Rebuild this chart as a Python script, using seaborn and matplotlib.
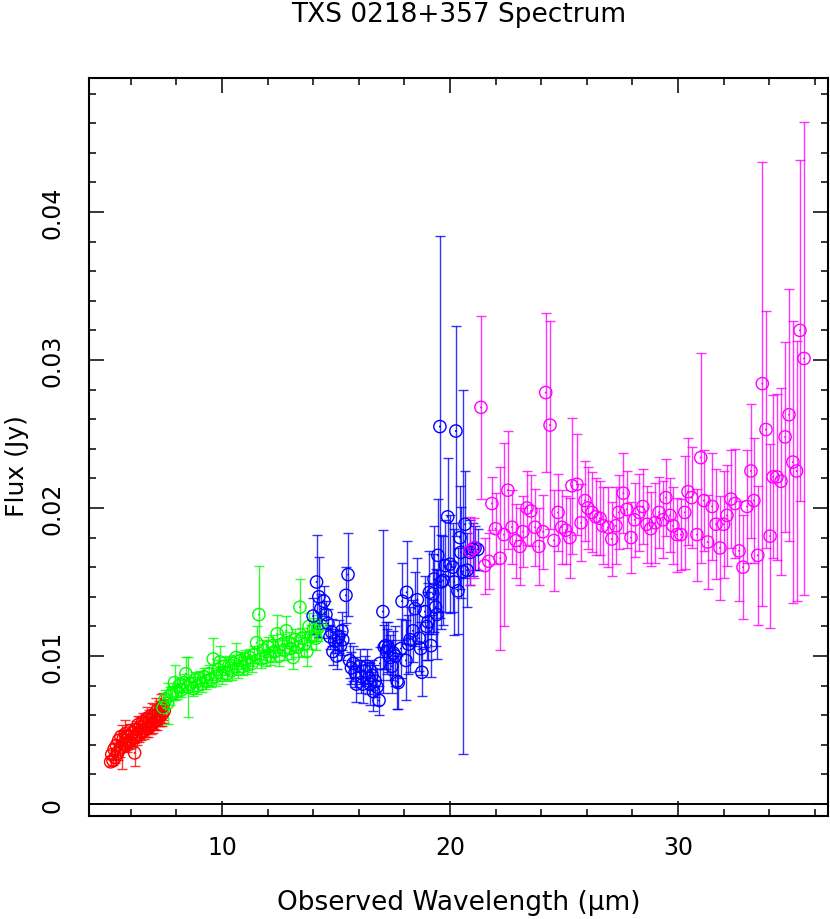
import numpy as np
import pandas as pd
import matplotlib
matplotlib.use("Agg")
import matplotlib.pyplot as plt
import seaborn as sns
from matplotlib.ticker import MultipleLocator, FuncFormatter

# ---------------- data (flux in units of 1e-3 Jy) ----------------
red_wave = [5.12, 5.17, 5.22, 5.27, 5.32, 5.37, 5.42, 5.47, 5.52, 5.57, 5.62, 5.67,
            5.72, 5.77, 5.82, 5.87, 5.92, 5.97, 6.02, 6.07, 6.12, 6.17, 6.22, 6.27,
            6.32, 6.37, 6.42, 6.47, 6.52, 6.57, 6.62, 6.67, 6.72, 6.77, 6.82, 6.87,
            6.92, 6.97, 7.02, 7.07, 7.12, 7.17, 7.22, 7.27, 7.32, 7.37, 7.42, 7.47]
red_flux = [2.85, 3.35, 2.95, 3.70, 3.15, 3.95, 3.40, 4.30, 3.70, 4.55, 3.85, 4.40,
            4.05, 4.75, 3.95, 4.60, 4.20, 4.95, 4.35, 4.80, 4.45, 3.45, 5.05, 4.50,
            5.35, 4.70, 5.20, 4.85, 5.55, 4.95, 5.40, 5.10, 5.80, 5.15, 5.65, 5.35,
            6.00, 5.45, 5.90, 5.60, 6.25, 5.70, 6.10, 5.95, 6.45, 6.05, 6.60, 6.30]
red_err = [0.25, 0.30, 0.30, 0.35, 0.40, 0.35, 0.45, 0.40, 0.50, 0.40, 1.50, 0.50,
           0.40, 0.95, 0.45, 0.40, 0.50, 0.45, 0.55, 0.50, 0.55, 0.85, 0.55, 0.50,
           0.60, 0.50, 0.65, 0.55, 0.60, 0.55, 0.70, 0.55, 0.75, 0.60, 0.70, 0.60,
           0.80, 0.65, 0.85, 0.60, 0.90, 0.70, 0.85, 0.70, 0.95, 0.75, 0.90, 0.80]

green_wave = [7.42, 7.52, 7.62, 7.72, 7.82, 7.92, 8.02, 8.12, 8.22, 8.32, 8.42, 8.52,
              8.62, 8.72, 8.82, 8.92, 9.02, 9.12, 9.22, 9.32, 9.42, 9.52, 9.62, 9.72,
              9.82, 9.92, 10.02, 10.12, 10.22, 10.32, 10.42, 10.52, 10.62, 10.72, 10.82,
              10.92, 11.02, 11.12, 11.22, 11.32, 11.42, 11.52, 11.62, 11.72, 11.82, 11.92,
              12.02, 12.12, 12.22, 12.32, 12.42, 12.52, 12.62, 12.72, 12.82, 12.92, 13.02,
              13.12, 13.22, 13.32, 13.42, 13.52, 13.62, 13.72, 13.82, 13.92, 14.02, 14.12,
              14.22, 14.32]
green_flux = [6.5, 7.1, 6.8, 7.3, 7.5, 8.2, 7.6, 8.0, 7.7, 8.2, 8.8, 7.9,
              8.1, 7.8, 8.4, 8.0, 8.5, 8.1, 8.6, 8.3, 8.8, 8.4, 9.8, 8.6,
              9.1, 9.6, 8.7, 9.3, 8.8, 9.4, 9.0, 9.5, 9.9, 9.1, 9.7,
              9.3, 9.8, 9.4, 9.9, 9.5, 10.1, 10.9, 12.8, 9.8, 10.4, 9.9,
              10.6, 10.0, 10.7, 10.3, 11.5, 10.0, 10.8, 10.4, 11.7, 10.9, 10.5,
              9.9, 11.1, 10.6, 13.3, 11.2, 10.8, 10.3, 12.0, 11.3, 11.8, 11.2,
              11.9, 12.1]
green_err = [0.5, 0.6, 1.4, 0.6, 0.5, 1.2, 0.5, 0.5, 0.5, 0.6, 1.1, 2.0,
             0.5, 0.5, 0.5, 0.6, 0.5, 0.5, 0.6, 0.5, 0.6, 0.5, 1.4, 0.6,
             0.6, 1.1, 0.6, 0.6, 0.5, 0.6, 0.6, 0.6, 1.0, 0.6, 0.6,
             0.6, 0.6, 0.6, 0.6, 0.6, 0.6, 1.1, 3.3, 0.6, 0.7, 0.6,
             0.7, 0.6, 0.7, 0.7, 1.3, 0.7, 0.7, 0.7, 1.0, 0.7, 0.7,
             0.8, 0.7, 0.7, 1.9, 0.7, 0.8, 1.0, 0.9, 0.8, 0.8, 0.8,
             0.9, 0.9]

blue_wave = [14.00, 14.15, 14.25, 14.34, 14.47, 14.56, 14.65, 14.74, 14.82, 14.87, 14.95,
             15.03, 15.12, 15.20, 15.26, 15.30, 15.44, 15.53, 15.60, 15.68, 15.76, 15.84,
             15.90, 16.05, 16.12, 16.18, 16.28, 16.36, 16.44, 16.50, 16.58, 16.64, 16.72,
             16.80, 16.89, 16.93, 17.06, 17.12, 17.18, 17.24, 17.30, 17.38, 17.45, 17.52,
             17.60, 17.68, 17.73, 17.85, 17.90, 18.07, 18.10, 18.18, 18.25, 18.38, 18.47,
             18.57, 18.65, 18.72, 18.77, 18.90, 18.98, 19.04, 19.10, 19.17, 19.25, 19.30,
             19.37, 19.43, 19.47, 19.56, 19.62, 19.70, 19.80, 19.90, 20.00, 20.13, 20.18,
             20.26, 20.35, 20.44, 20.48, 20.57, 20.66, 20.75, 20.88, 21.00, 21.10, 21.22]
blue_flux = [12.7, 15.0, 14.0, 13.2, 13.7, 12.8, 12.2, 11.3, 11.6, 10.3, 11.0,
             10.0, 11.3, 10.7, 11.7, 11.1, 14.1, 15.5, 9.7, 9.2, 9.5, 8.9,
             8.1, 9.3, 8.6, 8.1, 9.0, 9.3, 8.5, 8.1, 8.7, 7.6, 8.3,
             7.9, 7.0, 9.5, 13.0, 10.6, 10.7, 10.3, 10.6, 9.9, 9.3, 10.2,
             10.0, 8.3, 8.2, 10.5, 13.7, 9.7, 14.3, 10.8, 11.1, 11.7, 13.2,
             13.8, 11.2, 10.5, 8.9, 13.0, 12.0, 12.3, 14.3, 10.7, 14.2, 15.2,
             13.3, 12.8, 16.8, 25.5, 15.0, 15.1, 16.1, 19.4, 16.2, 16.0, 15.0,
             25.2, 14.4, 18.0, 17.0, 15.7, 18.9, 15.8, 17.0, 17.2, 17.3, 17.2]
blue_err = [1.2, 3.2, 2.7, 1.0, 1.0, 0.9, 1.0, 0.8, 0.9, 0.9, 0.8,
            0.9, 1.1, 1.0, 1.3, 1.0, 1.9, 2.8, 1.2, 1.1, 1.2, 1.0,
            1.2, 1.2, 1.1, 1.3, 1.0, 1.2, 1.1, 1.4, 1.0, 1.3, 1.1,
            1.2, 1.0, 1.1, 5.5, 1.5, 1.6, 1.5, 1.7, 1.5, 1.8, 1.5,
            2.0, 1.9, 1.8, 2.0, 2.6, 2.7, 3.5, 2.0, 2.2, 2.1, 2.5,
            2.8, 2.2, 1.8, 1.6, 2.4, 2.3, 2.6, 2.8, 2.1, 2.7, 3.6,
            2.6, 3.0, 3.8, 12.9, 3.2, 3.0, 3.1, 4.0, 3.3, 3.0, 3.6,
            7.1, 2.9, 3.5, 3.1, 12.3, 3.6, 2.5, 2.2, 1.8, 1.5, 1.4]

magenta_wave = [20.88, 21.05, 21.36, 21.53, 21.70, 21.84, 22.00, 22.20, 22.37, 22.54,
                22.72, 22.90, 23.07, 23.20, 23.38, 23.55, 23.73, 23.90, 24.08, 24.20,
                24.39, 24.56, 24.74, 24.90, 25.08, 25.26, 25.35, 25.57, 25.75, 25.92,
                26.05, 26.23, 26.40, 26.58, 26.70, 26.93, 27.10, 27.28, 27.40, 27.60,
                27.76, 27.94, 28.10, 28.30, 28.46, 28.64, 28.80, 29.00, 29.17, 29.34,
                29.47, 29.65, 29.78, 29.96, 30.13, 30.30, 30.44, 30.60, 30.83, 31.00,
                31.14, 31.30, 31.50, 31.67, 31.84, 32.00, 32.15, 32.32, 32.50, 32.68,
                32.85, 33.03, 33.20, 33.33, 33.50, 33.70, 33.86, 34.04, 34.17, 34.34,
                34.52, 34.70, 34.87, 35.04, 35.20, 35.35, 35.53]
magenta_flux = [17.1, 17.3, 26.8, 16.1, 16.4, 20.3, 18.6, 16.6, 18.2, 21.2,
                18.7, 17.8, 17.4, 18.4, 20.0, 19.8, 18.7, 17.4, 18.4, 27.8,
                25.6, 17.8, 19.7, 18.7, 18.5, 18.0, 21.5, 21.6, 19.0, 20.5,
                20.0, 19.7, 19.4, 19.3, 18.8, 18.7, 17.9, 18.8, 19.7, 21.0,
                19.9, 18.0, 19.2, 19.7, 20.1, 18.9, 18.6, 19.0, 19.7, 19.2,
                20.7, 19.5, 18.8, 18.2, 18.2, 19.7, 21.1, 20.7, 18.2, 23.4,
                20.5, 17.7, 20.1, 18.9, 17.3, 18.9, 19.5, 20.6, 20.3, 17.1,
                16.0, 20.1, 22.5, 20.5, 16.8, 28.4, 25.3, 18.1, 22.1, 22.1,
                21.8, 24.8, 26.3, 23.1, 22.5, 32.0, 30.1]
magenta_err = [2.3, 2.0, 6.2, 1.9, 1.9, 1.8, 2.4, 6.2, 6.2, 4.0,
               2.5, 2.5, 2.6, 2.4, 2.5, 2.4, 2.6, 2.6, 2.5, 5.4,
               7.0, 3.4, 2.6, 2.5, 2.3, 2.7, 4.6, 3.4, 2.6, 2.7,
               2.8, 2.7, 2.6, 2.5, 2.6, 2.7, 2.5, 2.6, 2.5, 2.7,
               2.6, 2.4, 2.5, 2.6, 2.5, 2.6, 2.5, 2.7, 2.4, 2.6,
               2.6, 2.5, 2.6, 2.5, 2.4, 3.8, 3.6, 3.4, 3.1, 7.1,
               3.4, 3.2, 3.6, 3.7, 3.5, 3.6, 3.4, 3.3, 3.7, 3.4,
               3.5, 3.8, 4.5, 4.2, 4.7, 15.0, 8.0, 6.2, 5.5, 5.6,
               6.3, 6.4, 8.5, 9.5, 8.8, 11.5, 16.0]

band_names = ["SL2", "SL1", "LL2", "LL1"]
band_colors = {"SL2": "#ff0000", "SL1": "#00ff00", "LL2": "#0000ff", "LL1": "#ff00ff"}

frames = []
for name, w, f, e in zip(band_names,
                         [red_wave, green_wave, blue_wave, magenta_wave],
                         [red_flux, green_flux, blue_flux, magenta_flux],
                         [red_err, green_err, blue_err, magenta_err]):
    assert len(w) == len(f) == len(e), name
    frames.append(pd.DataFrame({"wave": w, "flux": np.array(f) * 1e-3,
                                "err": np.array(e) * 1e-3, "band": name}))
df = pd.concat(frames, ignore_index=True)

# ---------------- figure ----------------
sns.set_theme(style="ticks")
plt.rcParams["font.family"] = ["DejaVu Sans"]
plt.rcParams.update({"text.color": "black", "axes.labelcolor": "black",
                     "xtick.color": "black", "ytick.color": "black",
                     "axes.edgecolor": "black"})

W, H = 830, 920
fig = plt.figure(figsize=(W / 100, H / 100), dpi=100)
L, R, T, B = 89, 828, 79, 817
ax = fig.add_axes([L / W, 1 - B / H, (R - L) / W, (B - T) / H])
ax.set_facecolor("white")

for name in band_names:
    sub = df[df.band == name]
    ax.errorbar(sub.wave, sub.flux, yerr=sub.err, fmt="none",
                ecolor=band_colors[name], elinewidth=1.0, capsize=3.5,
                capthick=1.0, alpha=0.8, zorder=2)

sns.scatterplot(data=df, x="wave", y="flux", hue="band", palette=band_colors,
                hue_order=band_names, s=78, marker="o", linewidth=1.0,
                legend=False, ax=ax, zorder=3)
coll = ax.collections[-1]
fc = coll.get_facecolors()
coll.set_edgecolors(fc)
coll.set_facecolors("none")

sns.scatterplot(data=df, x="wave", y="flux", hue="band", palette=band_colors,
                hue_order=band_names, s=2, marker="o", linewidth=0,
                legend=False, ax=ax, zorder=4)

ax.axhline(0, color="black", lw=1.4, zorder=1)

ax.set_xlim(4.17, 36.58)
ax.set_ylim(-0.00081, 0.04905)
ax.xaxis.set_major_locator(MultipleLocator(10))
ax.xaxis.set_minor_locator(MultipleLocator(2))
ax.yaxis.set_major_locator(MultipleLocator(0.01))
ax.yaxis.set_minor_locator(MultipleLocator(0.002))
ax.yaxis.set_major_formatter(FuncFormatter(lambda v, p: "0" if abs(v) < 1e-12 else f"{v:g}"))

ax.tick_params(which="both", direction="in", top=True, right=True, width=1.1, colors="black")
ax.tick_params(which="major", length=10.5)
ax.tick_params(which="minor", length=5)
ax.tick_params(axis="x", which="major", labelsize=17, pad=14)
ax.tick_params(axis="y", which="major", labelsize=17, pad=18)
for lab in ax.get_yticklabels():
    lab.set_rotation(90)
    lab.set_va("center")
for sp in ax.spines.values():
    sp.set_linewidth(1.5)
    sp.set_color("black")

ax.set_xlabel("Observed Wavelength (μm)", fontsize=19)
ax.xaxis.set_label_coords(0.5, (B - 903) / (B - T))
ax.xaxis.label.set_va("center")
ax.set_ylabel("Flux (Jy)", fontsize=18)
ax.yaxis.set_label_coords((17 - L) / (R - L), (B - 466) / (B - T))
ax.yaxis.label.set_va("center")
fig.text((L + R) / 2 / W, 1 - 15 / H, "TXS 0218+357 Spectrum", fontsize=19,
         ha="center", va="center", color="black")

fig.savefig("out.png", dpi=100)
